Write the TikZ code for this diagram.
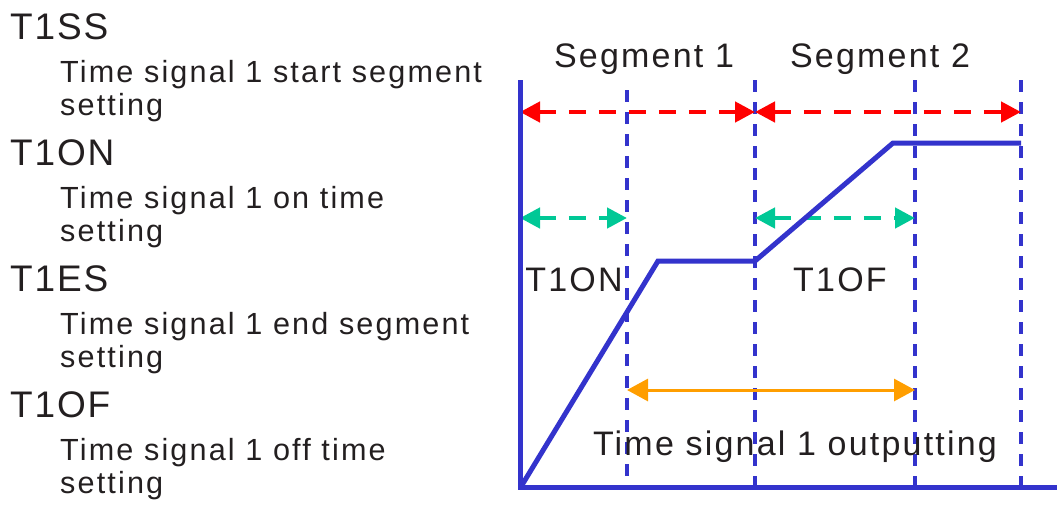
\documentclass[tikz,border=0pt]{standalone}
\usepackage{fontspec}
\setmainfont{Liberation Sans}[LetterSpace=5]
\newfontfamily\descfont{Liberation Sans}[LetterSpace=7]
\newfontfamily\lblfont{Liberation Sans}[LetterSpace=6.5]
\usetikzlibrary{arrows.meta, positioning, calc}
\definecolor{curveblue}{HTML}{3333CC}
\definecolor{segred}{HTML}{FF0000}
\definecolor{ongreen}{HTML}{00C896}
\definecolor{outorange}{HTML}{FF9E00}
\definecolor{inkblack}{HTML}{231F20}

\begin{document}
\begin{tikzpicture}[x=1pt, y=-1pt,
    title/.style={anchor=base west, inner sep=0pt, text=inkblack, font=\fontsize{37}{37}\selectfont},
    desc/.style={anchor=base west, inner sep=0pt, text=inkblack, font=\descfont\fontsize{30.6}{30.6}\selectfont},
    lbl/.style={anchor=base, inner sep=0pt, text=inkblack, font=\lblfont\fontsize{34}{34}\selectfont},
    gridline/.style={curveblue, line width=4pt, dash pattern=on 12pt off 10pt},
    span/.style={{Triangle[length=20pt, width=20pt]}-{Triangle[length=20pt, width=20pt]}, line width=4.5pt, dash pattern=on 17pt off 13pt},
    axisline/.style={curveblue, line width=5pt}]
    \useasboundingbox (0,0) rectangle (1057,507);

    % ── LEFT: PARAMETER LIST ──────────────────────────────────────────
    \node[title] (ss) at (10, 39) {T1SS};
    \node[desc] (ssa) at (60, 82) {Time signal 1 start segment};
    \node[desc] (ssb) at (60, 115) {setting};
    \node[title] (on) at (10, 165) {T1ON};
    \node[desc] (ona) at (60, 208) {Time signal 1 on time};
    \node[desc] (onb) at (60, 241) {setting};
    \node[title] (es) at (10, 291) {T1ES};
    \node[desc] (esa) at (60, 334) {Time signal 1 end segment};
    \node[desc] (esb) at (60, 367) {setting};
    \node[title] (of) at (10, 417) {T1OF};
    \node[desc] (ofa) at (60, 460) {Time signal 1 off time};
    \node[desc] (ofb) at (60, 493) {setting};

    % ── RIGHT: TIMING CHART ───────────────────────────────────────────
    \coordinate (origin) at (520, 487);
    \coordinate (ytop) at (520, 80);
    \coordinate (xend) at (1057, 487);

    % dashed markers
    \foreach \gx/\gname/\gtop in {627/ga/90, 755/gb/80, 915/gc/80, 1021/gd/80}{
        \coordinate (\gname-top) at (\gx, \gtop);
        \coordinate (\gname-bot) at (\gx, 485);
        \draw[gridline] (\gname-top) -- (\gname-bot);
    }

    % segment spans
    \coordinate (redrow) at (520, 112);
    \draw[span, segred] (redrow) -- (gb-top |- redrow);
    \draw[span, segred] (gb-top |- redrow) -- (gd-top |- redrow);
    \node[lbl] (seg1) at (644, 67) {Segment 1};
    \node[lbl] (seg2) at (880, 67) {Segment 2};

    % on / off time spans
    \coordinate (greenrow) at (520, 218);
    \draw[span, ongreen] (greenrow) -- (ga-top |- greenrow);
    \draw[span, ongreen] (gb-top |- greenrow) -- (gc-top |- greenrow);
    \node[lbl] (onlbl) at (574, 291) {T1ON};
    \node[lbl] (oflbl) at (840, 291) {T1OF};

    % output span
    \coordinate (outrow) at (627, 390);
    \draw[{Triangle[length=21pt, width=22pt]}-{Triangle[length=21pt, width=22pt]}, line width=3pt, outorange]
        (outrow) -- (gc-top |- outrow);
    \node[lbl] (outlbl) at (795, 455) {Time signal 1 outputting};

    % program curve
    \coordinate (lowflat) at (658, 261);
    \coordinate (highflat) at (893, 143);
    \draw[axisline, line join=miter] (522, 485) -- (lowflat) -- (gb-top |- lowflat)
        -- (highflat) -- (gd-top |- highflat);

    % axes
    \draw[axisline] (ytop) -- (origin) -- (xend);
\end{tikzpicture}
\end{document}
